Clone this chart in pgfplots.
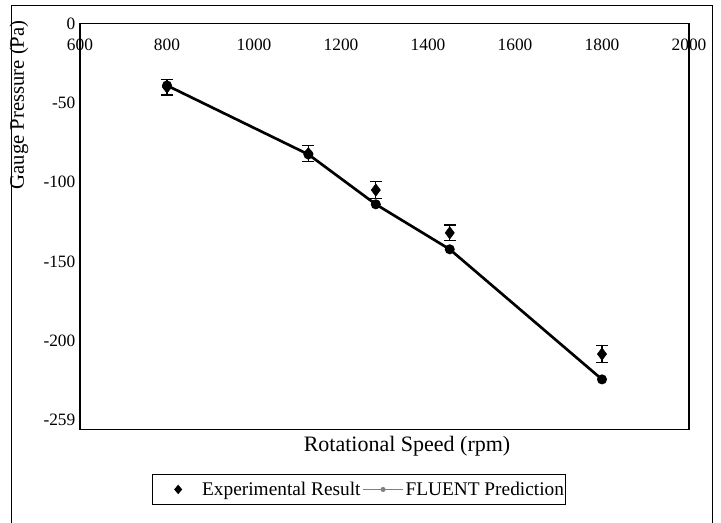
\documentclass[border=0pt]{standalone}
\usepackage{pgfplots}
\pgfplotsset{compat=1.18}
\usepackage{fontspec}
\setmainfont{Liberation Serif}
\begin{document}
\begin{tikzpicture}[x=0.75pt,y=0.75pt]
\useasboundingbox (0,0) rectangle (721,-523);
\draw[line width=0.75pt] (11,-6) rectangle (712,-560);
\begin{axis}[
  at={(60pt,-321.975pt)}, anchor=south west,
  scale only axis, width=456.75pt, height=304.2pt,
  xmin=600, xmax=2000, ymin=-256, ymax=0,
  xtick={600,800,...,2000},
  ytick={0,-50,-100,-150,-200,-250},
  yticklabels={0,-50,-100,-150,-200,-259},
  xticklabel pos=upper,
  xticklabel style={anchor=north, yshift=-8pt},
  major tick length=0pt,
  tick label style={font=\fontsize{13}{15}\selectfont},
  /pgf/number format/assume math mode=true,
  /pgf/number format/set thousands separator={},
  scaled ticks=false,
  axis line style={line width=1pt},
  xlabel={Rotational Speed (rpm)},
  xlabel style={at={(axis description cs:0.537,-0.041)}, anchor=center, font=\fontsize{16.5}{18}\selectfont},
  ylabel={Gauge Pressure (Pa)},
  ylabel style={at={(axis description cs:-0.1002,0.800)}, anchor=center, rotate=0, font=\fontsize{15.5}{18}\selectfont},
  legend columns=2,
  legend style={at={(axis description cs:0.1177,-0.110)}, anchor=north west,
    draw=black, line width=0.75pt, font=\fontsize{14.5}{16}\selectfont,
    inner xsep=0pt, inner ysep=4.5pt, column sep=0pt,
    nodes={inner xsep=1.5pt, inner ysep=1pt}},
]
\addplot[black, line width=2pt, mark=*, mark size=2.7pt, forget plot]
  coordinates {(800,-39) (1125,-82.5) (1280,-114) (1450,-142.4) (1800,-224.5)};
\addplot[black, only marks, mark=diamond*, mark size=4.6pt, forget plot,
  error bars/.cd, y dir=both, y explicit,
  error mark options={rotate=90, mark size=4.5pt, line width=0.9pt},
  error bar style={line width=0.9pt}]
  coordinates {(800,-40) +- (0,5) (1125,-82) +- (0,5) (1280,-105) +- (0,5.2) (1450,-132) +- (0,5) (1800,-208.5) +- (0,5.2)};
\addlegendimage{legend image code/.code={
  \path[draw=none,fill=none] (0pt,0pt) rectangle (36pt,0pt);
  \fill[black,draw=none] (22.5pt,0pt) -- (19.5pt,3.6pt) -- (16.5pt,0pt) -- (19.5pt,-3.6pt) -- cycle;}}
\addlegendentry{Experimental Result}
\addlegendimage{legend image code/.code={
  \draw[gray, line width=0.75pt] (0pt,0pt) -- (30pt,0pt);
  \fill[gray,draw=none] (15pt,0pt) circle (1.9pt);}}
\addlegendentry{FLUENT Prediction}
\end{axis}
\end{tikzpicture}
\end{document}
